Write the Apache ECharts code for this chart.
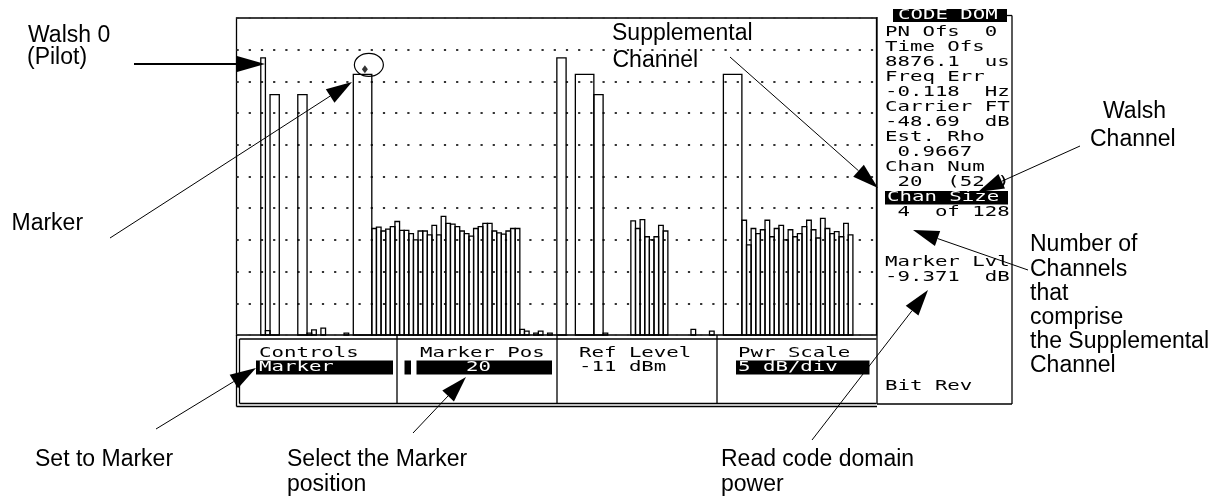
<!DOCTYPE html>
<html><head><meta charset="utf-8">
<script src="https://cdn.jsdelivr.net/npm/echarts@6/dist/echarts.min.js"></script>
<style>html,body{margin:0;padding:0;background:#fff}#c{width:1225px;height:497px}</style>
</head><body><div id="c"></div>
<script>
// ---- data (code domain power, dB) ----
const channelStart = [0, 2, 8, 20, 64, 68, 72, 100];
const channelSize  = [1, 2, 2, 4, 2, 4, 2, 4];
const channelDb    = [-6.3, -12.1, -12.1, -8.9, -6.3, -8.9, -12.1, -8.9];
const cluster1Start = 24;
const cluster1Db = [-33.2,-33.0,-33.6,-33.3,-32.9,-32.1,-33.5,-33.5,-34.0,-35.0,-33.6,-33.6,-34.2,-32.7,-34.2,-31.3,
                    -32.4,-32.5,-32.9,-33.6,-34.0,-34.4,-33.2,-32.9,-32.4,-32.4,-33.6,-33.9,-34.1,-33.6,-33.2,-33.2];
const cluster2Start = 80;
const cluster2Db = [-32.0,-33.2,-31.8,-34.5,-35.0,-34.5,-32.7,-33.6];
const cluster3Start = 104;
const cluster3Db = [-31.9,-35.8,-33.2,-34.0,-33.4,-31.9,-34.5,-33.2,-32.7,-35.0,-33.4,-34.5,
                    -34.0,-32.9,-31.9,-33.4,-34.7,-31.6,-33.2,-34.0,-33.7,-34.5,-32.4,-34.2];
const floorCodes = [1, 10, 11, 13, 18, 56, 57, 59, 60, 62, 74, 93, 97];
const floorDb    = [-49.3,-49.7,-49.2,-48.9,-49.7,-49.1,-49.4,-49.7,-49.4,-49.7,-49.7,-49.1,-49.4];
const markerCode = [22.5];
const markerDb   = [-8.1];
const yMin = -50, yMax = 0, yStep = 5;
const xMin = -5.25, xMax = 133.1;

const panelLines = [
  ['PN Ofs  0', 32.7], ['Time Ofs', 47.7], ['8876.1  us', 62.7], ['Freq Err', 77.7],
  ['-0.118  Hz', 92.7], ['Carrier FT', 107.7], ['-48.69  dB', 122.7], ['Est. Rho', 137.7],
  [' 0.9667', 152.7], ['Chan Num', 167.7], [' 20  (52 )', 182.7], [' 4  of 128', 212.7],
  ['Marker Lvl', 262.7], ['-9.371  dB', 277.7], ['Bit Rev', 386.7]
];

// ---- build bar items [start, width, dB] ----
const bars = [];
channelStart.forEach((s, i) => bars.push([s, channelSize[i], channelDb[i]]));
cluster1Db.forEach((v, i) => bars.push([cluster1Start + i, 1, v]));
cluster2Db.forEach((v, i) => bars.push([cluster2Start + i, 1, v]));
cluster3Db.forEach((v, i) => bars.push([cluster3Start + i, 1, v]));
floorCodes.forEach((c, i) => bars.push([c, 1, floorDb[i]]));

const chart = echarts.init(document.getElementById('c'), null, {renderer: 'canvas'});

const MONO = '"DejaVu Sans Mono", monospace';
const SANS = '"Liberation Sans", Arial, sans-serif';
const g = [];
function mono(text, x, y, color, sx) {
  g.push({type: 'text', x: x, y: y, scaleX: sx || 1.48, z: 20,
    style: {text: text, fill: color || '#000', font: '14px ' + MONO, align: 'left', verticalAlign: 'middle'}});
}
function sans(text, x, y) {
  g.push({type: 'text', x: x, y: y, z: 20,
    style: {text: text, fill: '#000', font: '23px ' + SANS, align: 'left', verticalAlign: 'middle'}});
}
function line(x1, y1, x2, y2, w) {
  g.push({type: 'line', z: 15, shape: {x1, y1, x2, y2}, style: {stroke: '#000', lineWidth: w || 1.3}});
}
function box(x, y, w, h) {
  g.push({type: 'rect', z: 16, shape: {x, y, width: w, height: h}, style: {fill: '#000'}});
}
function arrow(x1, y1, x2, y2, lw, len, hw) {
  len = len || 26; hw = hw || 8;
  const dx = x2 - x1, dy = y2 - y1, L = Math.hypot(dx, dy), ux = dx / L, uy = dy / L;
  const bx = x2 - ux * len, by = y2 - uy * len;
  g.push({type: 'line', z: 25, shape: {x1, y1, x2: bx, y2: by}, style: {stroke: '#000', lineWidth: lw || 1}});
  g.push({type: 'polygon', z: 25, shape: {points: [[x2, y2], [bx - uy * hw, by + ux * hw], [bx + uy * hw, by - ux * hw]]},
    style: {fill: '#000'}});
}

// frame of the instrument screen
line(236.5, 335, 236.5, 406.5, 1.3);
line(236.5, 406.5, 877, 406.5, 1.3);
line(239.5, 339, 876.5, 339, 1.3);
line(239.5, 339, 239.5, 403.5, 1.3);
line(239.5, 403.5, 876.5, 403.5, 1.3);
[397, 557, 717].forEach(x => line(x, 335, x, 403.5, 1.3));
// right panel
line(877, 17, 877, 404, 1.3);
line(1006, 15.5, 1012, 15.5, 1.3);
line(1012, 15.5, 1012, 404, 1.3);
line(877, 404, 1012, 404, 1.3);

// right panel text
box(893, 9, 114, 13); mono('CODE DOM', 898, 15.5, '#fff');
box(885, 191, 123, 13.5); mono('Chan Size', 887, 197.7, '#fff');
panelLines.forEach(p => mono(p[0], 885, p[1]));

// softkeys
mono('Controls', 259, 353);
box(256, 360.5, 137, 14); mono('Marker', 259, 367.5, '#fff');
mono('Marker Pos', 420, 353);
box(404.5, 360.5, 6.5, 14); box(416.5, 360.5, 135.5, 14); mono('20', 466, 367.5, '#fff');
mono('Ref Level', 579, 353);
mono('-11 dBm', 579, 367.5);
mono('Pwr Scale', 738, 353);
box(736, 360.5, 133.5, 14); mono('5 dB/div', 738, 367.5, '#fff');

// annotations
sans('Walsh 0', 28, 36); sans('(Pilot)', 27, 58);
arrow(134, 64, 265, 64, 2, 28, 8);
sans('Marker', 11.5, 223.5);
arrow(110, 238, 352, 82, 1, 26, 8);
sans('Supplemental', 612, 33.5); sans('Channel', 612.5, 61);
arrow(730, 57, 878, 188, 1, 26, 8);
sans('Walsh', 1103, 112); sans('Channel', 1090, 140);
arrow(1080, 146, 978, 192, 1, 26, 8);
['Number of', 'Channels', 'that', 'comprise', 'the Supplemental', 'Channel'].forEach((t, i) => sans(t, 1030, 245 + i * 24.2));
arrow(1028, 270, 913, 230, 1, 26, 8);
sans('Set to Marker', 35, 459.5);
arrow(156, 429, 256, 368, 1, 26, 8);
sans('Select the Marker', 287, 459.5); sans('position', 287, 485);
arrow(413, 433, 466, 377, 1, 26, 8);
sans('Read code domain', 721, 459.5); sans('power', 721, 485);
arrow(812, 440, 928, 290, 1, 26, 8);

chart.setOption({
  animation: false,
  backgroundColor: '#fff',
  grid: {left: 236.5, top: 18, width: 640, height: 317, show: true, borderColor: '#000', borderWidth: 1.3, backgroundColor: 'transparent'},
  xAxis: {type: 'value', min: xMin, max: xMax, show: false},
  yAxis: {type: 'value', min: yMin, max: yMax, interval: yStep,
    axisLine: {show: false}, axisTick: {show: false}, axisLabel: {show: false},
    splitLine: {show: true, lineStyle: {color: '#333', width: 2, type: [2.2, 10]}}},
  series: [
    {type: 'custom', data: bars, encode: {x: 0, y: 2}, z: 5,
      renderItem: function (params, api) {
        const s = api.value(0), w = api.value(1), v = api.value(2);
        const p0 = api.coord([s, v]);
        const p1 = api.coord([s + w, yMin]);
        return {type: 'rect', shape: {x: p0[0], y: p0[1], width: p1[0] - p0[0], height: p1[1] - p0[1]},
          style: {fill: 'none', stroke: '#000', lineWidth: 1.3}};
      }},
    {type: 'scatter', data: markerCode.map((c, i) => [c, markerDb[i]]), symbol: 'diamond', symbolSize: [6, 8],
      itemStyle: {color: '#000'}, z: 6}
  ],
  graphic: g
});

// marker circle annotation around the marker point
const mp = chart.convertToPixel({gridIndex: 0}, [markerCode[0], markerDb[0]]);
chart.setOption({graphic: g.concat([{type: 'ellipse', z: 25, shape: {cx: mp[0] + 4, cy: mp[1] - 4.5, rx: 14.5, ry: 11.5},
  style: {fill: 'none', stroke: '#000', lineWidth: 1.2}}])});
</script></body></html>
